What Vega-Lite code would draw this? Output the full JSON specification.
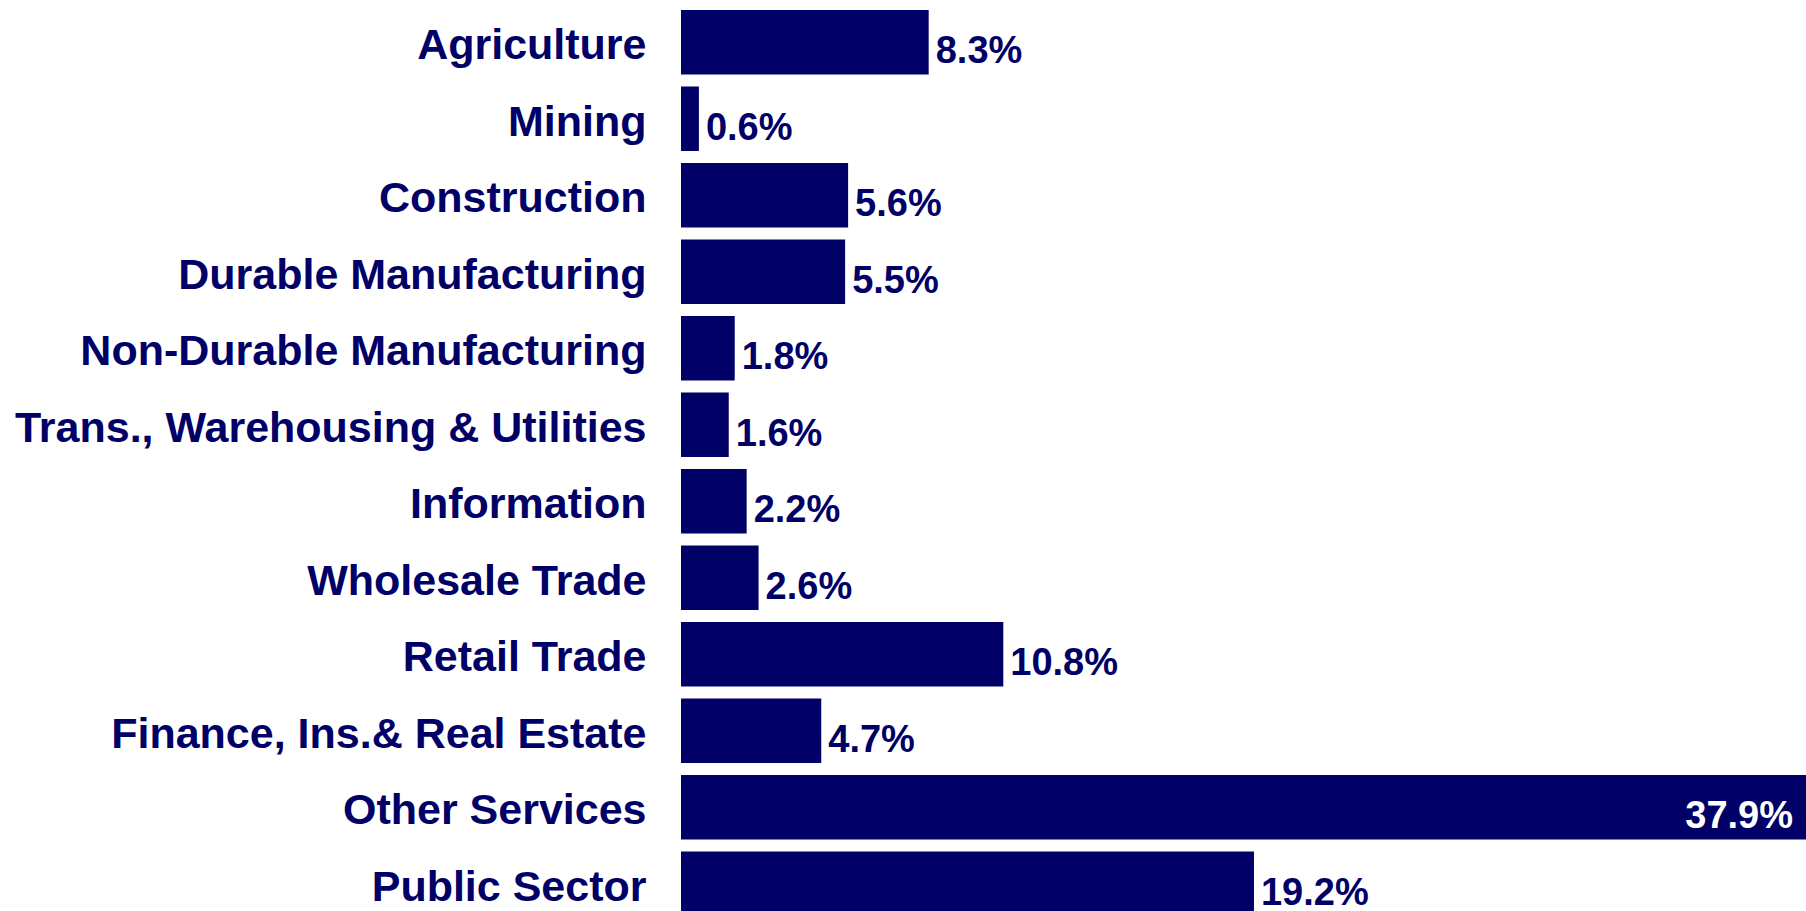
{
  "$schema": "https://vega.github.io/schema/vega-lite/v6.json",
  "width": 1134,
  "height": 906,
  "autosize": {"type": "none"},
  "padding": {"left": 681, "top": 10, "right": 0, "bottom": 0},
  "background": "white",
  "config": {"view": {"stroke": null}},
  "data": {
    "values": [
      {"sector": "Agriculture", "value": 8.3},
      {"sector": "Mining", "value": 0.6},
      {"sector": "Construction", "value": 5.6},
      {"sector": "Durable Manufacturing", "value": 5.5},
      {"sector": "Non-Durable Manufacturing", "value": 1.8},
      {"sector": "Trans., Warehousing & Utilities", "value": 1.6},
      {"sector": "Information", "value": 2.2},
      {"sector": "Wholesale Trade", "value": 2.6},
      {"sector": "Retail Trade", "value": 10.8},
      {"sector": "Finance, Ins.& Real Estate", "value": 4.7},
      {"sector": "Other Services", "value": 37.9},
      {"sector": "Public Sector", "value": 19.2}
    ]
  },
  "transform": [
    {"calculate": "format(datum.value, '.1f') + '%'", "as": "label"}
  ],
  "encoding": {
    "y": {
      "field": "sector",
      "type": "nominal",
      "sort": null,
      "scale": {"paddingInner": 0.157, "paddingOuter": 0},
      "axis": {
        "title": null,
        "domain": false,
        "ticks": false,
        "labelFontSize": 43,
        "labelFont": "Liberation Sans",
        "labelFontWeight": "bold",
        "labelColor": "#000066",
        "labelPadding": 35,
        "labelOffset": 4,
        "labelLimit": 0
      }
    },
    "x": {
      "field": "value",
      "type": "quantitative",
      "scale": {"domain": [0, 38]},
      "axis": null
    }
  },
  "layer": [
    {"mark": {"type": "bar", "color": "#000066"}},
    {
      "transform": [{"filter": "datum.value < 30"}],
      "mark": {
        "type": "text",
        "align": "left",
        "baseline": "middle",
        "dx": 7,
        "dy": 10,
        "font": "Liberation Sans",
        "fontWeight": "bold",
        "fontSize": 38,
        "color": "#000066"
      },
      "encoding": {"text": {"field": "label"}}
    },
    {
      "transform": [{"filter": "datum.value >= 30"}],
      "mark": {
        "type": "text",
        "align": "right",
        "baseline": "middle",
        "dx": -19,
        "dy": 10,
        "font": "Liberation Sans",
        "fontWeight": "bold",
        "fontSize": 38,
        "color": "white"
      },
      "encoding": {"text": {"field": "label"}}
    }
  ]
}
